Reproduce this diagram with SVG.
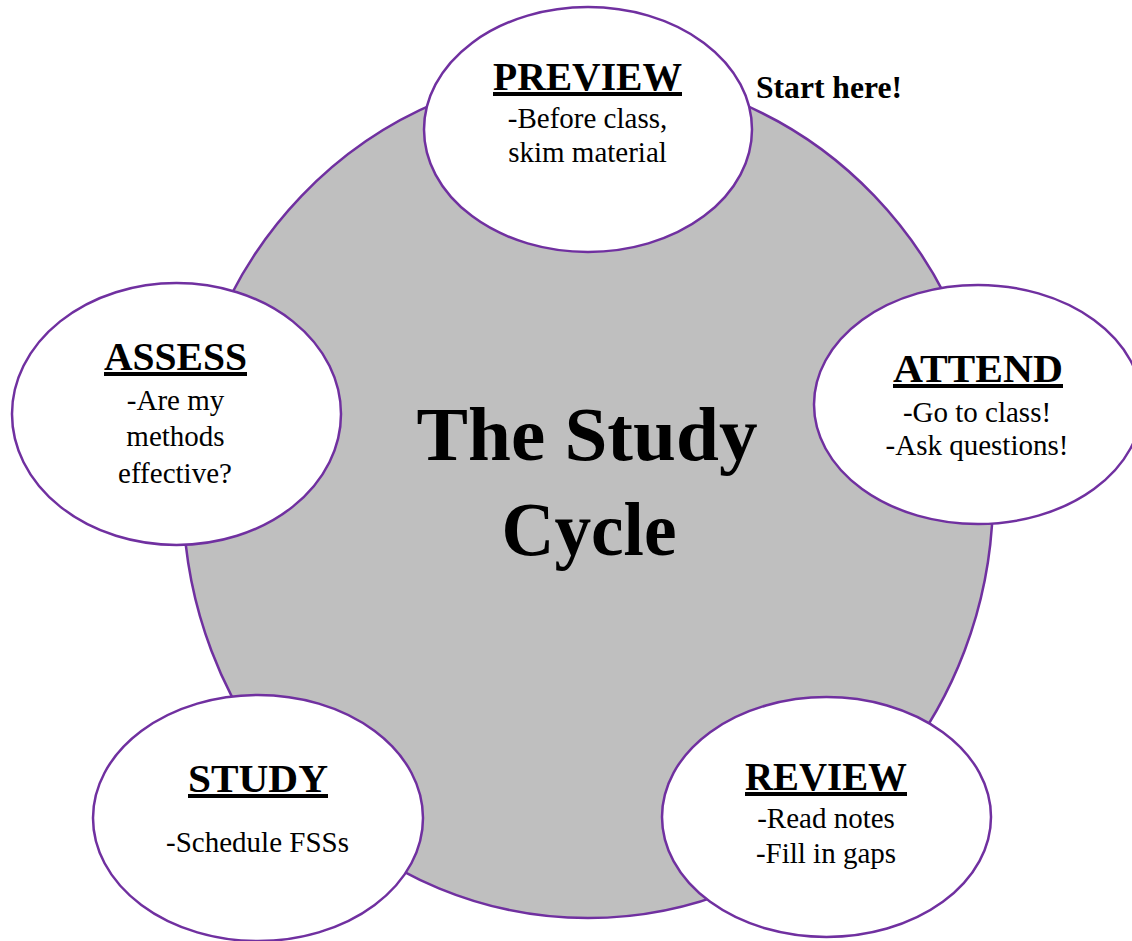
<svg xmlns="http://www.w3.org/2000/svg" width="1132" height="941" viewBox="0 0 1132 941">
<style>
.bg{fill:#ffffff}
.ring{fill:#BFBFBF;stroke:#7030A0;stroke-width:2.5}
.node{fill:#ffffff;stroke:#7030A0;stroke-width:2.5}
.ttl{font-family:"Liberation Serif","DejaVu Serif",serif;font-weight:bold;font-size:40px;fill:#000;text-anchor:middle;text-decoration:underline}
.body{font-family:"Liberation Serif","DejaVu Serif",serif;font-weight:normal;font-style:normal;font-size:29px;fill:#000;text-anchor:middle}
.big{font-family:"Liberation Serif","DejaVu Serif",serif;font-weight:bold;font-size:77px;fill:#000;text-anchor:middle}
.note{font-family:"Liberation Serif","DejaVu Serif",serif;font-weight:bold;font-size:31.5px;fill:#000}
</style>
<rect class="bg" x="0" y="0" width="1132" height="941"/>
<g id="cycle">
<ellipse class="ring" cx="588" cy="495" rx="405" ry="423"/>
<text class="big" x="587" y="460" textLength="341" lengthAdjust="spacingAndGlyphs">The Study</text>
<text class="big" x="589" y="555" textLength="175" lengthAdjust="spacingAndGlyphs">Cycle</text>
</g>
<g id="connectors"/>
<g id="preview">
<ellipse class="node" cx="588" cy="129.5" rx="164" ry="122.5"/>
<text class="ttl" x="587.5" y="90" textLength="189" lengthAdjust="spacingAndGlyphs">PREVIEW</text>
<text class="body" x="587.5" y="128">-Before class,</text>
<text class="body" x="587.5" y="162">skim material</text>
</g>
<g id="start-note">
<text class="note" x="756" y="98" textLength="146" lengthAdjust="spacingAndGlyphs">Start here!</text>
</g>
<g id="attend">
<ellipse class="node" cx="978" cy="404.5" rx="164" ry="119.5"/>
<text class="ttl" x="978" y="382" textLength="170" lengthAdjust="spacingAndGlyphs">ATTEND</text>
<text class="body" x="977" y="422">-Go to class!</text>
<text class="body" x="977" y="455">-Ask questions!</text>
</g>
<g id="review">
<ellipse class="node" cx="826.5" cy="817" rx="164.5" ry="120"/>
<text class="ttl" x="826" y="790" textLength="162" lengthAdjust="spacingAndGlyphs">REVIEW</text>
<text class="body" x="826" y="828">-Read notes</text>
<text class="body" x="826" y="863">-Fill in gaps</text>
</g>
<g id="study">
<ellipse class="node" cx="258" cy="818" rx="165" ry="123"/>
<text class="ttl" x="258" y="792" textLength="140" lengthAdjust="spacingAndGlyphs">STUDY</text>
<text class="body" x="257.5" y="852">-Schedule FSSs</text>
</g>
<g id="assess">
<ellipse class="node" cx="176.5" cy="414" rx="164.5" ry="131"/>
<text class="ttl" x="175.5" y="370" textLength="143" lengthAdjust="spacingAndGlyphs">ASSESS</text>
<text class="body" x="175.5" y="410">-Are my</text>
<text class="body" x="175.5" y="446">methods</text>
<text class="body" x="175" y="483">effective?</text>
</g>
</svg>
